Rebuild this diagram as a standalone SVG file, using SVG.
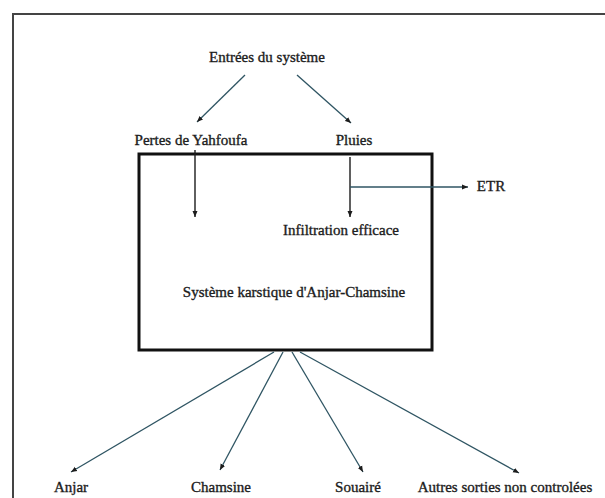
<svg xmlns="http://www.w3.org/2000/svg" width="605" height="498" viewBox="0 0 605 498">
<style>
text{font-family:"Liberation Serif","Times New Roman",serif;font-size:15px;fill:#1c1c1c;stroke:#1c1c1c;stroke-width:0.35;text-anchor:middle}
.c{fill:none;stroke:#2f5563;stroke-width:1.3}
.v{fill:none;stroke:#1c1c1c;stroke-width:1.4}
</style>
<defs>
<marker id="ah" markerUnits="userSpaceOnUse" markerWidth="7" markerHeight="6" refX="6" refY="3" orient="auto">
<path d="M0,0.5 L6,3 L0,5.5 Z" fill="#1c1c1c"/>
</marker>
</defs>
<rect width="605" height="498" fill="#fff"/>
<path d="M13,498 V14 H605" fill="none" stroke="#444" stroke-width="2"/>
<g id="entrees"><text x="267" y="62">Entrées du système</text></g>
<g id="pertes"><text x="191" y="145">Pertes de Yahfoufa</text></g>
<g id="pluies"><text x="354" y="145">Pluies</text></g>
<g id="systeme">
<rect x="139" y="154" width="293" height="196" fill="none" stroke="#111" stroke-width="3"/>
<text x="294" y="297">Système karstique d'Anjar-Chamsine</text>
</g>
<g id="infiltration"><text x="341" y="235">Infiltration efficace</text></g>
<g id="etr"><text x="491" y="191">ETR</text></g>
<g id="anjar"><text x="71" y="492">Anjar</text></g>
<g id="chamsine"><text x="221" y="492">Chamsine</text></g>
<g id="souaire"><text x="358" y="492">Souairé</text></g>
<g id="autres"><text x="505" y="492">Autres sorties non controlées</text></g>
<g id="connectors">
<path class="c" d="M245,75 L197,122" marker-end="url(#ah)"/>
<path class="c" d="M297,75 L351,123" marker-end="url(#ah)"/>
<path class="v" d="M195,150 V217" marker-end="url(#ah)"/>
<path class="v" d="M350,157 V217" marker-end="url(#ah)"/>
<path class="c" d="M350,187 H468" marker-end="url(#ah)"/>
<path class="c" d="M274,352 L71,472" marker-end="url(#ah)"/>
<path class="c" d="M283,352 L220,470" marker-end="url(#ah)"/>
<path class="c" d="M292,352 L363,472" marker-end="url(#ah)"/>
<path class="c" d="M300,352 L519,473" marker-end="url(#ah)"/>
</g>
</svg>
